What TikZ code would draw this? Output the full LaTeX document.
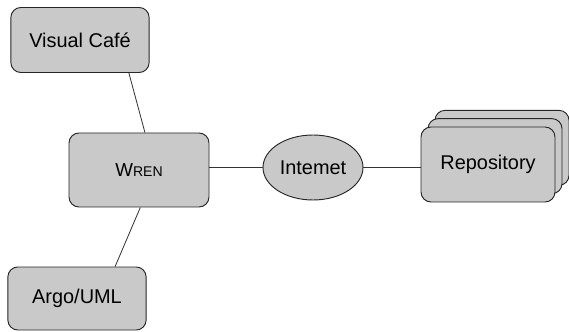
\documentclass[tikz,border=0pt]{standalone}
\usepackage{fontspec}
\setmainfont{Liberation Sans}
\usetikzlibrary{shapes.geometric,shadows}
\tikzset{
  toolbox/.style={draw=black!85,line width=0.8pt,fill=gray!42,rounded corners=0.3cm,
    minimum width=4.15cm,minimum height=1.95cm,font=\fontsize{17}{20}\selectfont},
  netnode/.style={draw=black!85,line width=0.8pt,fill=gray!42,ellipse,
    minimum width=3cm,minimum height=1.95cm,inner sep=0pt,font=\fontsize{17}{20}\selectfont},
  link/.style={line width=0.7pt,black!80}
}
\newcommand{\wrenname}{{\fontsize{16}{19}\selectfont W}{\fontsize{12}{14}\selectfont REN}}

\begin{document}
\begin{tikzpicture}
            \useasboundingbox (0,0) rectangle (17.07,9.93);
            \node[toolbox] (cafe) at (2.4,8.73){Visual Café};
            \node[toolbox,minimum width=4.2cm,minimum height=2.22cm] (wren) at (4.17,4.83){\wrenname};
            \node[toolbox,minimum height=1.89cm] (argo) at (2.31,0.975){Argo/UML};
            \node[netnode] (inet) at (9.39,4.905){Intemet};
            \node[toolbox,minimum width=4.02cm,minimum height=2.25cm,
                  double copy shadow={shadow xshift=0.21cm,shadow yshift=0.25cm}] (repo) at (14.64,4.995){Repository};
            \draw[link] (cafe.-34)--(wren.81);
            \draw[link] (wren.-88)--(argo.40);
            \draw[link] (wren.east |- inet.west)--(inet.west);
            \draw[link] (inet.east)--(repo.west |- inet.east);
        \end{tikzpicture}
\end{document}
